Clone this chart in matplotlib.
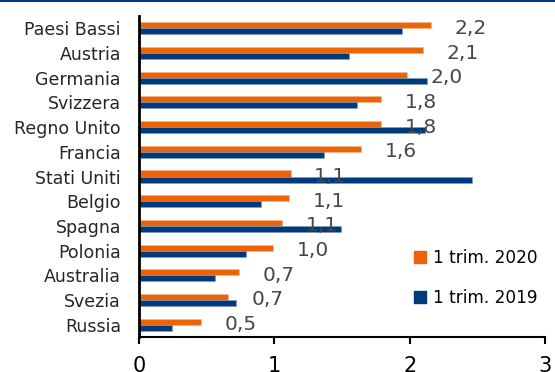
import numpy as np
import matplotlib.pyplot as plt
from matplotlib.lines import Line2D

# dati: variazione % annua, primo trimestre
paesi = ['Paesi Bassi', 'Austria', 'Germania', 'Svizzera', 'Regno Unito',
         'Francia', 'Stati Uniti', 'Belgio', 'Spagna', 'Polonia',
         'Australia', 'Svezia', 'Russia']
trim_2020 = [2.16, 2.10, 1.98, 1.79, 1.79, 1.64, 1.12, 1.11, 1.06, 0.99,
             0.74, 0.66, 0.46]
trim_2019 = [1.94, 1.55, 2.13, 1.61, 2.11, 1.37, 2.46, 0.90, 1.49, 0.79,
             0.56, 0.72, 0.24]
xticks = [0, 1, 2, 3]

ARANCIO = '#EB6408'
BLU = '#003A7D'
plt.rcParams['font.family'] = ['DejaVu Sans']

fig = plt.figure(figsize=(5.55, 3.72), dpi=100)
ax = fig.add_axes([0.2505, 0.094, 0.7315, 0.863])

y = np.arange(len(paesi))
h = 0.245
ax.barh(y - h / 2, trim_2020, height=h, color=ARANCIO, edgecolor='#F5B88C',
        linewidth=0.4, label='1 trim. 2020')
ax.barh(y + h / 2, trim_2019, height=h, color=BLU, edgecolor='#7F9CC0',
        linewidth=0.4, label='1 trim. 2019')

# etichette con il valore 2020
for yi, v in zip(y, trim_2020):
    ax.annotate(f'{v:.1f}'.replace('.', ','), (v, yi), xytext=(17, 0),
                textcoords='offset points', ha='left', va='center',
                fontsize=14.5, color='#474747')

ax.set_xlim(0, 3)
ax.set_ylim(len(paesi) - 0.5, -0.5)
ax.set_xticks(xticks)
ax.set_xticklabels([str(t) for t in xticks], fontsize=15)
ax.set_yticks(y)
ax.set_yticklabels(paesi, fontsize=12.5, color='#262626')
ax.tick_params(axis='y', length=0, pad=13)
ax.tick_params(axis='x', direction='out', length=5, width=1.5, pad=9)
for s in ['top', 'right']:
    ax.spines[s].set_visible(False)
ax.spines['left'].set_linewidth(2)
ax.spines['bottom'].set_linewidth(1.5)

handles = [Line2D([], [], marker='s', linestyle='none', markersize=8,
                  color=c) for c in (ARANCIO, BLU)]
ax.legend(handles, ['1 trim. 2020', '1 trim. 2019'], loc='lower right',
          bbox_to_anchor=(1.02, 0.045), frameon=False, fontsize=12.2,
          handletextpad=0.2, labelspacing=1.3, handlelength=1.2)

# filetto blu in alto
fig.add_artist(Line2D([0, 1], [0.998, 0.998], color=BLU, linewidth=1.5,
                      transform=fig.transFigure))

fig.savefig('out.png', dpi=100)
